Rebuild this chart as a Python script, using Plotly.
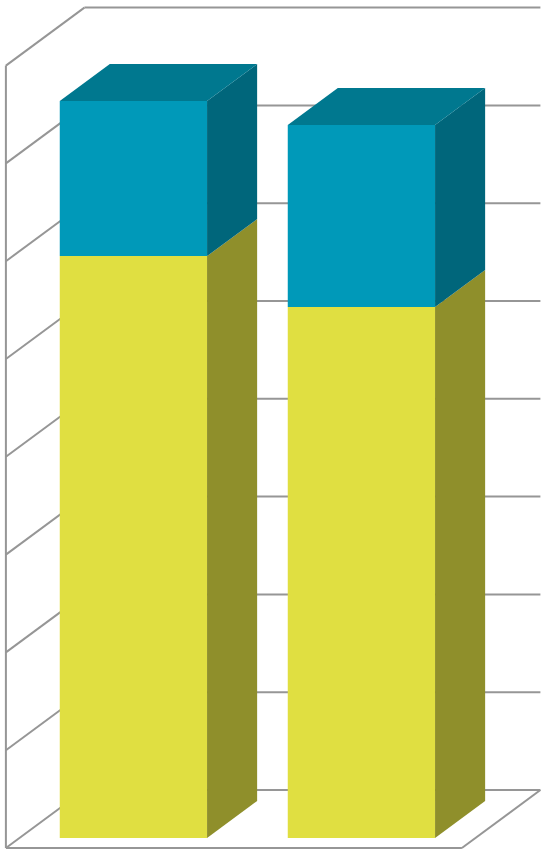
import plotly.graph_objects as go

# Data
categories = [0, 1]
lower_values = [5.95, 5.43]
upper_values = [1.585, 1.86]
grid_values = [0, 1, 2, 3, 4, 5, 6, 7, 8]

# Styles
LOWER_FRONT = "#E0DF41"
LOWER_SIDE = "#8F8F2B"
UPPER_FRONT = "#0099B9"
UPPER_SIDE = "#00667B"
UPPER_TOP = "#00788F"
GRID = "#969696"

# Oblique projection: axis units moved per unit of depth (0 = front, 1 = back)
PX_PER_CAT = 228.0
PX_PER_VAL = 97.8
DX = 78.5 / PX_PER_CAT
DY = 58.0 / PX_PER_VAL
Z_FRONT = 0.172
Z_BACK = 0.81
BAR_W = 0.646
CAT_MIN, CAT_MAX = -0.5, 1.5


def proj(cat, z, val):
    return cat + DX * z, val + DY * z


def poly(points):
    xs, ys = zip(*points)
    return list(xs) + [xs[0]], list(ys) + [ys[0]]


fig = go.Figure()


def side_face(cat, v0, v1, color):
    right = cat + BAR_W / 2
    x, y = poly([proj(right, Z_FRONT, v0), proj(right, Z_BACK, v0),
                 proj(right, Z_BACK, v1), proj(right, Z_FRONT, v1)])
    fig.add_trace(go.Scatter(x=x, y=y, mode="lines", fill="toself", fillcolor=color,
                             line=dict(width=0), hoverinfo="skip", showlegend=False))


def top_face(cat, v, color):
    l, r = cat - BAR_W / 2, cat + BAR_W / 2
    x, y = poly([proj(l, Z_FRONT, v), proj(r, Z_FRONT, v),
                 proj(r, Z_BACK, v), proj(l, Z_BACK, v)])
    fig.add_trace(go.Scatter(x=x, y=y, mode="lines", fill="toself", fillcolor=color,
                             line=dict(width=0), hoverinfo="skip", showlegend=False))


# Front faces, through the bar trace
front_x = [c + DX * Z_FRONT for c in categories]
base = DY * Z_FRONT
fig.add_trace(go.Bar(x=front_x, y=lower_values, base=[base] * 2, width=BAR_W,
                     marker=dict(color=LOWER_FRONT, line=dict(width=0)),
                     hoverinfo="skip", showlegend=False))
fig.add_trace(go.Bar(x=front_x, y=upper_values,
                     base=[base + v for v in lower_values], width=BAR_W,
                     marker=dict(color=UPPER_FRONT, line=dict(width=0)),
                     hoverinfo="skip", showlegend=False))

# Side and top faces
for c, lo, up in zip(categories, lower_values, upper_values):
    side_face(c, 0, lo, LOWER_SIDE)
    side_face(c, lo, lo + up, UPPER_SIDE)
    top_face(c, lo + up, UPPER_TOP)

# Walls, floor and grid, below everything
shapes = []


def seg(a, b):
    shapes.append(dict(type="line", xref="x", yref="y", layer="below",
                       x0=a[0], y0=a[1], x1=b[0], y1=b[1],
                       line=dict(color=GRID, width=2)))


for g in grid_values:
    seg(proj(CAT_MIN, 0, g), proj(CAT_MIN, 1, g))
    seg(proj(CAT_MIN, 1, g), proj(CAT_MAX, 1, g))
top = grid_values[-1]
seg(proj(CAT_MIN, 0, 0), proj(CAT_MIN, 0, top))
seg(proj(CAT_MIN, 0, 0), proj(CAT_MAX, 0, 0))
seg(proj(CAT_MAX, 0, 0), proj(CAT_MAX, 1, 0))

W, H = 548, 855
x0_px = 119.9
y0_px = 848.0
fig.update_layout(
    width=W, height=H, margin=dict(l=0, r=0, t=0, b=0),
    paper_bgcolor="white", plot_bgcolor="white", showlegend=False,
    barmode="overlay", shapes=shapes,
    xaxis=dict(range=[-x0_px / PX_PER_CAT, (W - x0_px) / PX_PER_CAT], visible=False, fixedrange=True),
    yaxis=dict(range=[(y0_px - H) / PX_PER_VAL, y0_px / PX_PER_VAL], visible=False, fixedrange=True),
)
fig.write_html("out.html", config=dict(displayModeBar=False),
               post_script="document.body.style.margin='0';document.documentElement.style.overflow='hidden';")
